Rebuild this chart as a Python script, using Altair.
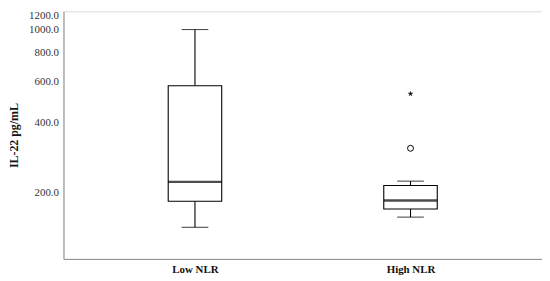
import altair as alt
import pandas as pd

groups = ["Low NLR", "High NLR"]
lower = [141, 156]
q1 = [182.5, 169]
median = [221.5, 184]
q3 = [575, 213.5]
upper = [1005, 223]

outlier_groups = ["High NLR"]
outlier_values = [309]
extreme_groups = ["High NLR"]
extreme_values = [531]

y_ticks = [200, 400, 600, 800, 1000, 1200]

stats = pd.DataFrame({"group": groups, "lower": lower, "q1": q1, "median": median,
                      "q3": q3, "upper": upper})
outl = pd.DataFrame({"group": outlier_groups, "value": outlier_values})
extr = pd.DataFrame({"group": extreme_groups, "value": extreme_values})

FONT = "Liberation Serif"
AX = "#8c8c8c"

xenc = alt.X("group:N", sort=groups,
             scale=alt.Scale(type="point", padding=0.61),
             axis=alt.Axis(title=None, labelAngle=0, labelFont=FONT, labelFontSize=11,
                           labelFontWeight="bold", labelColor="#111", ticks=False,
                           domainColor=AX, labelPadding=5))
yscale = alt.Scale(type="log", domain=[103, 1205], nice=False)
yaxis = alt.Axis(title="IL-22 pg/mL", values=y_ticks, format=".1f", grid=False, ticks=False,
                 labelFont=FONT, labelFontSize=11, labelColor="#333", labelPadding=5,
                 labelOffset={"condition": {"test": "datum.value >= 1200", "value": 3.5},
                              "value": 0},
                 titleFont=FONT, titleFontSize=12, titleFontWeight="bold", titleColor="#111",
                 titlePadding=8, domainColor=AX)

base = alt.Chart(stats)

box = base.mark_bar(size=54, fill="white", stroke="black", strokeWidth=1.1).encode(
    x=xenc, y=alt.Y("q1:Q", scale=yscale, axis=yaxis), y2="q3:Q")
w_lo = base.mark_rule(color="black", strokeWidth=1.1).encode(
    x=xenc, y=alt.Y("lower:Q", scale=yscale, axis=yaxis), y2="q1:Q")
w_hi = base.mark_rule(color="black", strokeWidth=1.1).encode(
    x=xenc, y=alt.Y("q3:Q", scale=yscale, axis=yaxis), y2="upper:Q")
cap_lo = base.mark_tick(size=27, thickness=1.1, color="black").encode(
    x=xenc, y=alt.Y("lower:Q", scale=yscale, axis=yaxis))
cap_hi = base.mark_tick(size=27, thickness=1.1, color="black").encode(
    x=xenc, y=alt.Y("upper:Q", scale=yscale, axis=yaxis))
med = base.mark_tick(size=54, thickness=2.3, color="black").encode(
    x=xenc, y=alt.Y("median:Q", scale=yscale, axis=yaxis))

circ = alt.Chart(outl).mark_point(shape="circle", size=36, filled=False, color="black",
                                  strokeWidth=1, opacity=1).encode(
    x=xenc, y=alt.Y("value:Q", scale=yscale, axis=yaxis))
star_path = ("M0,-1L0.2245,-0.309L0.951,-0.309L0.363,0.118L0.588,0.809L0,0.382"
             "L-0.588,0.809L-0.363,0.118L-0.951,-0.309L-0.2245,-0.309Z")
star = alt.Chart(extr).mark_point(shape=star_path, size=40, filled=True, color="#222",
                                  opacity=1).encode(
    x=xenc, y=alt.Y("value:Q", scale=yscale, axis=yaxis))

chart = alt.layer(w_lo, w_hi, cap_lo, cap_hi, box, med, circ, star).properties(
    width=483, height=250,
    autosize=alt.AutoSizeParams(type="none"),
    padding={"left": 56, "top": 2, "right": 0, "bottom": 20},
).configure_view(stroke=None).configure(background="white")

chart.save("out.html", embed_options={"renderer": "svg", "actions": False})
